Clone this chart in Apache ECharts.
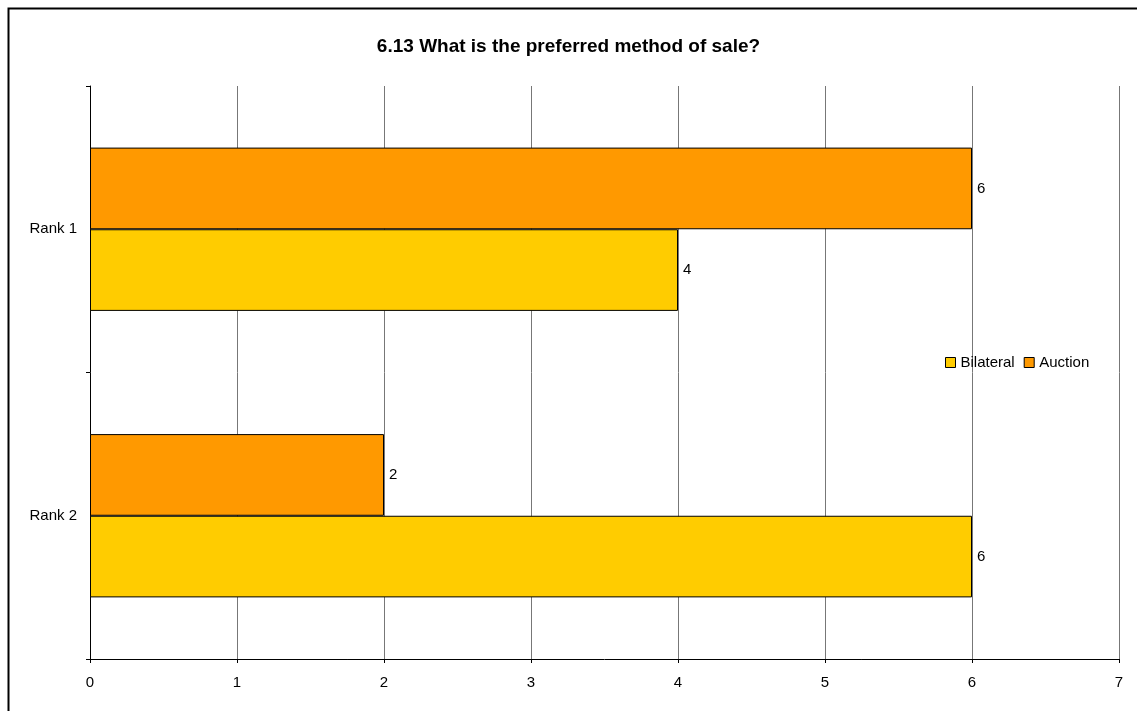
<!DOCTYPE html>
<html>
<head>
<meta charset="utf-8">
<script src="https://cdn.jsdelivr.net/npm/echarts@6/dist/echarts.min.js"></script>
<style>
  html, body { margin: 0; padding: 0; background: #fff; }
  #chart { width: 1137px; height: 711px; }
</style>
</head>
<body>
<div id="chart"></div>
<script>
// Survey answers: counts of respondents per rank for each method of sale
const categories = ['Rank 1', 'Rank 2'];
const bilateral = [4, 6];
const auction = [6, 2];
const xTicks = [0, 1, 2, 3, 4, 5, 6, 7];

const font = '"Liberation Sans", Arial, sans-serif';
const chart = echarts.init(document.getElementById('chart'));

const barSeries = (name, data, color) => ({
  name: name,
  type: 'bar',
  data: data,
  barCategoryGap: '43%',
  barGap: '0%',
  itemStyle: { color: color, borderColor: '#000', borderWidth: 1 },
  label: {
    show: true,
    position: 'right',
    distance: 5,
    color: '#000',
    fontFamily: font,
    fontSize: 15
  },
  emphasis: { disabled: true }
});

chart.setOption({
  animation: false,
  backgroundColor: '#fff',
  title: {
    text: '6.13 What is the preferred method of sale?',
    left: 'center',
    top: 32,
    textStyle: { fontFamily: font, fontSize: 19, fontWeight: 'bold', color: '#000' }
  },
  legend: {
    data: ['Bilateral', 'Auction'],
    left: 945,
    top: 355,
    padding: 0,
    itemWidth: 10,
    itemHeight: 10,
    itemGap: 9,
    icon: 'rect',
    textStyle: { fontFamily: font, fontSize: 15, color: '#000' },
    itemStyle: { borderColor: '#000', borderWidth: 1 }
  },
  grid: { left: 90, right: 18, top: 86, bottom: 52, containLabel: false },
  xAxis: {
    type: 'value',
    min: xTicks[0],
    max: xTicks[xTicks.length - 1],
    interval: 1,
    axisLine: { show: true, lineStyle: { color: '#000', width: 1 } },
    axisTick: { show: true, length: 4, lineStyle: { color: '#000' } },
    axisLabel: { color: '#000', fontFamily: font, fontSize: 15, margin: 16 },
    splitLine: { show: true, lineStyle: { color: '#777', width: 1 } }
  },
  yAxis: {
    type: 'category',
    data: categories,
    inverse: true,
    axisLine: { show: true, lineStyle: { color: '#000', width: 1 } },
    axisTick: { show: true, length: 4, lineStyle: { color: '#000' } },
    axisLabel: { color: '#000', fontFamily: font, fontSize: 15, margin: 13 },
    splitLine: { show: false }
  },
  series: [
    barSeries('Auction', auction, '#FF9900'),
    barSeries('Bilateral', bilateral, '#FFCC00')
  ],
  graphic: [{
    type: 'rect',
    shape: { x: 8.5, y: 8.5, width: 1200, height: 800 },
    style: { fill: 'none', stroke: '#000', lineWidth: 2 },
    silent: true
  }]
});
</script>
</body>
</html>
